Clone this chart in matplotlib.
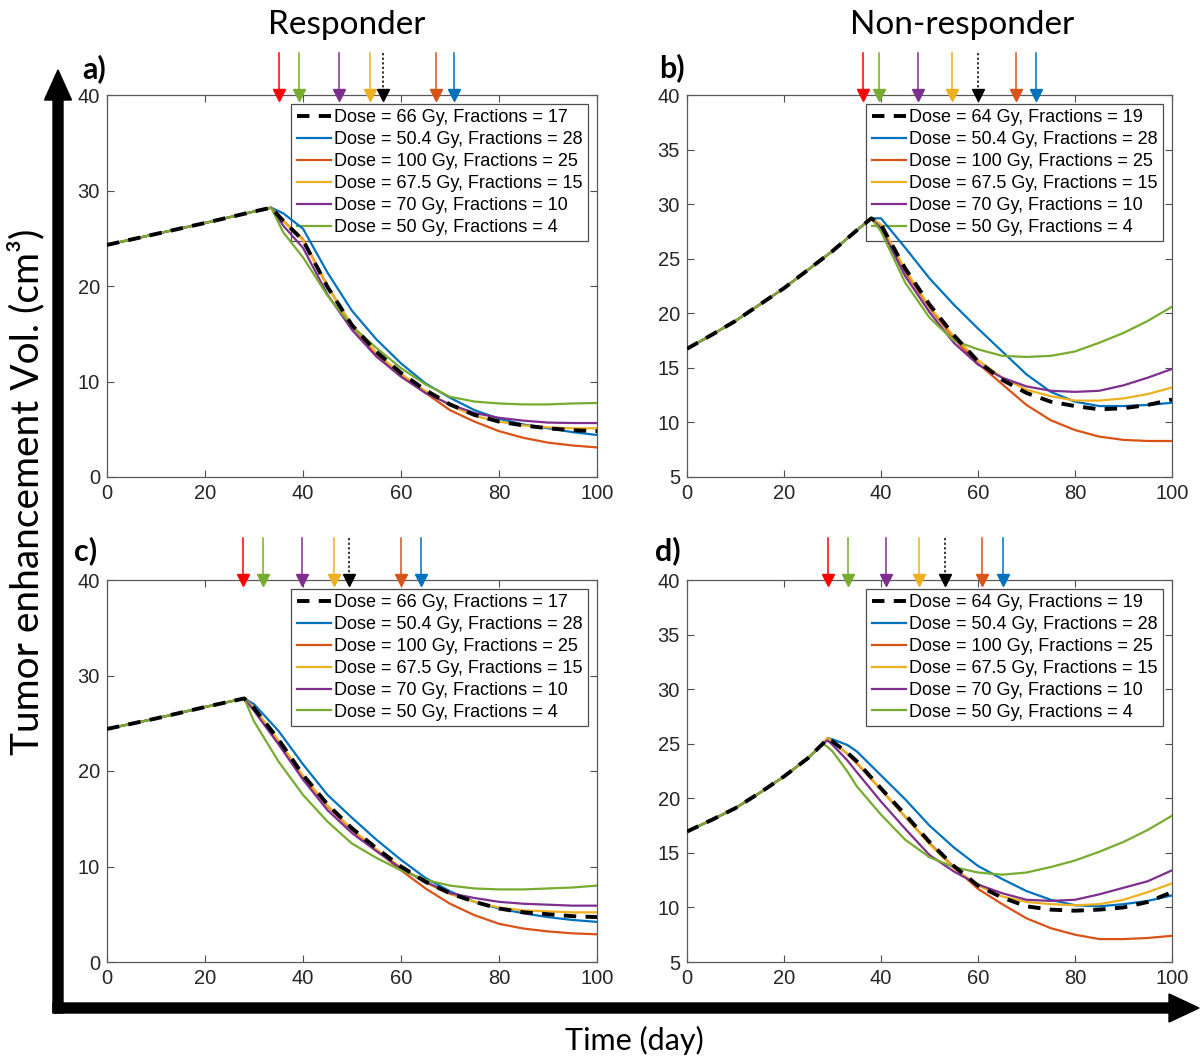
import matplotlib.pyplot as plt
from matplotlib.patches import FancyArrow

W, H = 1201, 1057

# legend labels
labels_resp = ['Dose = 66 Gy, Fractions = 17', 'Dose = 50.4 Gy, Fractions = 28',
               'Dose = 100 Gy, Fractions = 25', 'Dose = 67.5 Gy, Fractions = 15',
               'Dose = 70 Gy, Fractions = 10', 'Dose = 50 Gy, Fractions = 4']
labels_nonresp = ['Dose = 64 Gy, Fractions = 19', 'Dose = 50.4 Gy, Fractions = 28',
                  'Dose = 100 Gy, Fractions = 25', 'Dose = 67.5 Gy, Fractions = 15',
                  'Dose = 70 Gy, Fractions = 10', 'Dose = 50 Gy, Fractions = 4']

# panel a (responder, top)
a_x_pre = [0, 10, 20, 30, 33.5]
a_y_pre = [24.3, 25.45, 26.6, 27.8, 28.2]
a_x_post = [36, 40, 45, 50, 55, 60, 65, 70, 75, 80, 85, 90, 95, 100]
a_black = [26.8, 24.8, 19.9, 15.9, 13.1, 10.9, 9.1, 7.6, 6.5, 5.8, 5.4, 5.1, 4.9, 4.8]
a_blue = [27.6, 26.0, 21.4, 17.4, 14.4, 11.9, 9.8, 8.3, 7.0, 6.1, 5.5, 5.1, 4.7, 4.4]
a_orange = [26.8, 24.9, 20.0, 15.8, 12.8, 10.7, 8.8, 7.0, 5.8, 4.8, 4.1, 3.6, 3.3, 3.1]
a_yellow = [26.8, 24.8, 19.9, 15.9, 13.0, 10.8, 9.0, 7.5, 6.4, 5.8, 5.4, 5.2, 5.1, 5.1]
a_purple = [26.3, 24.0, 19.1, 15.4, 12.6, 10.5, 8.8, 7.6, 6.7, 6.2, 5.9, 5.7, 5.65, 5.65]
a_green = [25.6, 23.0, 19.0, 15.8, 13.5, 11.4, 9.7, 8.4, 7.9, 7.7, 7.6, 7.6, 7.7, 7.75]
a_arrows = [35.0, 39.2, 47.4, 53.7, 56.4, 67.1, 70.8]

# panel b (non-responder, top)
b_x_pre = [0, 5, 10, 15, 20, 25, 30, 35, 38]
b_y_pre = [16.75, 18.0, 19.3, 20.8, 22.3, 24.0, 25.7, 27.6, 28.7]
b_x_post = [40, 45, 50, 55, 60, 65, 70, 75, 80, 85, 90, 95, 100]
b_black = [28.1, 24.1, 20.8, 18.0, 15.6, 13.9, 12.7, 11.9, 11.5, 11.2, 11.3, 11.6, 12.1]
b_blue = [28.7, 26.0, 23.2, 20.8, 18.6, 16.5, 14.4, 12.8, 11.9, 11.5, 11.5, 11.6, 11.8]
b_orange = [28.1, 23.8, 20.5, 17.7, 15.4, 13.5, 11.6, 10.2, 9.3, 8.7, 8.4, 8.3, 8.3]
b_yellow = [28.1, 24.0, 20.6, 17.9, 15.7, 14.1, 13.0, 12.4, 12.0, 12.0, 12.2, 12.6, 13.2]
b_purple = [27.8, 23.4, 20.1, 17.3, 15.3, 14.1, 13.3, 12.9, 12.8, 12.9, 13.4, 14.1, 14.9]
b_green = [27.5, 22.8, 19.6, 17.5, 16.7, 16.1, 16.0, 16.1, 16.5, 17.3, 18.2, 19.3, 20.6]
b_arrows = [36.2, 39.5, 47.6, 54.6, 59.9, 67.8, 72.0]

# panel c (responder, bottom)
c_x_pre = [0, 10, 20, 28]
c_y_pre = [24.4, 25.5, 26.7, 27.6]
c_x_post = [30, 35, 40, 45, 50, 55, 60, 65, 70, 75, 80, 85, 90, 95, 100]
c_black = [26.6, 23.3, 19.6, 16.5, 14.0, 11.9, 10.0, 8.4, 7.2, 6.3, 5.6, 5.2, 5.0, 4.8, 4.7]
c_blue = [27.0, 24.2, 20.7, 17.5, 15.1, 12.8, 10.7, 8.8, 7.4, 6.3, 5.6, 5.1, 4.7, 4.4, 4.2]
c_orange = [26.6, 23.1, 19.4, 16.3, 13.8, 11.7, 9.6, 7.7, 6.1, 4.9, 4.0, 3.5, 3.2, 3.0, 2.9]
c_yellow = [26.6, 23.2, 19.5, 16.4, 13.9, 11.8, 9.9, 8.3, 7.1, 6.3, 5.7, 5.4, 5.3, 5.2, 5.2]
c_purple = [26.3, 22.8, 19.1, 15.9, 13.5, 11.6, 9.8, 8.4, 7.2, 6.7, 6.3, 6.1, 6.0, 5.9, 5.9]
c_green = [25.2, 21.0, 17.5, 14.7, 12.4, 10.9, 9.6, 8.6, 8.0, 7.7, 7.6, 7.6, 7.7, 7.8, 8.0]
c_arrows = [27.8, 31.8, 39.8, 46.4, 49.3, 60.0, 64.0]

# panel d (non-responder, bottom)
d_x_pre = [0, 5, 10, 15, 20, 25, 28]
d_y_pre = [16.95, 18.0, 19.1, 20.5, 22.0, 23.7, 25.0]
d_x_post = [29, 30, 33, 35, 40, 45, 50, 55, 60, 65, 70, 75, 80, 85, 90, 95, 100]
d_black = [25.5, 25.2, 24.2, 23.4, 20.9, 18.5, 16.0, 13.8, 12.0, 10.9, 10.1, 9.8, 9.7, 9.8, 10.0, 10.5, 11.4]
d_blue = [25.5, 25.4, 24.9, 24.3, 22.1, 19.9, 17.5, 15.5, 13.8, 12.6, 11.5, 10.7, 10.2, 10.1, 10.3, 10.6, 11.1]
d_orange = [25.5, 25.2, 24.1, 23.2, 20.8, 18.3, 15.9, 13.7, 11.7, 10.3, 9.0, 8.1, 7.5, 7.1, 7.1, 7.2, 7.4]
d_yellow = [25.5, 25.2, 24.1, 23.3, 20.8, 18.3, 15.8, 13.6, 12.0, 11.0, 10.5, 10.3, 10.2, 10.3, 10.7, 11.4, 12.2]
d_purple = [25.3, 24.9, 23.5, 22.4, 19.7, 17.2, 14.8, 13.3, 12.1, 11.3, 10.7, 10.6, 10.7, 11.2, 11.8, 12.4, 13.4]
d_green = [24.7, 24.3, 22.5, 21.1, 18.5, 16.2, 14.6, 13.7, 13.2, 13.0, 13.2, 13.7, 14.3, 15.1, 16.0, 17.1, 18.4]
d_arrows = [29.1, 33.2, 41.0, 47.8, 53.1, 60.9, 65.1]

# MATLAB default colours
BLUE, ORANGE, YELLOW = '#0072BD', '#D95319', '#EDB120'
PURPLE, GREEN = '#7E2F8E', '#77AC30'
arrow_colors = ['#FF0000', GREEN, PURPLE, YELLOW, 'k', ORANGE, BLUE]

plt.rcParams['font.family'] = ['Liberation Sans', 'DejaVu Sans']

fig = plt.figure(figsize=(W / 100, H / 100), dpi=100)


def px_axes(left, top, right, bottom):
    return fig.add_axes([left / W, 1 - bottom / H, (right - left) / W, (bottom - top) / H])


def draw_panel(ax, x_pre, y_pre, x_post, black, blue, orange, yellow, purple, green,
               arrows, labels, ymin, ystep):
    x = x_pre + x_post
    handles = []
    for ys, col in [(blue, BLUE), (orange, ORANGE), (yellow, YELLOW), (purple, PURPLE), (green, GREEN)]:
        h, = ax.plot(x, y_pre + ys, color=col, lw=1.6, zorder=3)
        handles.append(h)
    hb, = ax.plot(x, y_pre + black, color='k', lw=2.8, dashes=(3.2, 2.4), zorder=4)
    ax.set_xlim(0, 100)
    ax.set_ylim(ymin, 40)
    ax.set_xticks(range(0, 101, 20))
    ax.set_yticks(range(ymin, 41, ystep))
    ax.tick_params(direction='in', top=True, right=True, length=5, width=0.8,
                   labelsize=14.5, color='#4d4d4d', labelcolor='#262626', pad=5)
    for s in ax.spines.values():
        s.set_color('#5a5a5a')
        s.set_linewidth(0.9)
    # dose arrows above the axes
    tr = ax.get_xaxis_transform()
    for xa, col in zip(arrows, arrow_colors):
        ls = (0, (1.5, 1.5)) if col == 'k' else '-'
        ax.plot([xa, xa], [1.11, 1.01], color=col, lw=1.1, ls=ls, transform=tr, clip_on=False, zorder=5)
        ax.plot([xa], [1.0], marker='v', ms=9, color=col, mec=col, transform=tr, clip_on=False, zorder=6)
    leg = ax.legend([hb] + handles, labels, loc='upper right', fontsize=13, fancybox=False,
                    edgecolor='#4d4d4d', framealpha=1, borderpad=0.3, labelspacing=0.27,
                    handlelength=1.9, handletextpad=0.15, borderaxespad=0.5)
    leg.get_frame().set_linewidth(0.9)
    # curves pass over the legend box, as in the original
    leg.set_zorder(2)


ax_a = px_axes(107, 95, 597, 477)
ax_b = px_axes(687, 95, 1172, 477)
ax_c = px_axes(107, 580, 597, 962)
ax_d = px_axes(687, 580, 1172, 962)

draw_panel(ax_a, a_x_pre, a_y_pre, a_x_post, a_black, a_blue, a_orange, a_yellow, a_purple, a_green,
           a_arrows, labels_resp, 0, 10)
draw_panel(ax_b, b_x_pre, b_y_pre, b_x_post, b_black, b_blue, b_orange, b_yellow, b_purple, b_green,
           b_arrows, labels_nonresp, 5, 5)
draw_panel(ax_c, c_x_pre, c_y_pre, c_x_post, c_black, c_blue, c_orange, c_yellow, c_purple, c_green,
           c_arrows, labels_resp, 0, 10)
draw_panel(ax_d, d_x_pre, d_y_pre, d_x_post, d_black, d_blue, d_orange, d_yellow, d_purple, d_green,
           d_arrows, labels_nonresp, 5, 5)

# big axis arrows
inch = fig.dpi_scale_trans
fig.add_artist(FancyArrow(0.58, (H - 1013) / 100, 0, (1013 - 70) / 100, width=0.10,
                          head_width=0.27, head_length=0.30, length_includes_head=True,
                          color='k', transform=inch))
fig.add_artist(FancyArrow(0.53, (H - 1008) / 100, (1199 - 53) / 100, 0, width=0.10,
                          head_width=0.28, head_length=0.30, length_includes_head=True,
                          color='k', transform=inch))

title_font = ['Lato', 'DejaVu Sans']
fig.text(347 / W, 1 - 25 / H, 'Responder', fontsize=24, family=title_font, ha='center', va='center')
fig.text(962 / W, 1 - 25 / H, 'Non-responder', fontsize=24, family=title_font, ha='center', va='center')
fig.text(634 / W, 1 - 1040 / H, 'Time (day)', fontsize=22, family=title_font, ha='center', va='center')
fig.text(26 / W, 1 - 492 / H, 'Tumor enhancement Vol. (cm³)', fontsize=28, family=title_font,
         rotation=90, ha='center', va='center')

for lab, (px, py) in zip(['a)', 'b)', 'c)', 'd)'], [(94, 69), (672, 68), (86, 551), (668, 551)]):
    fig.text(px / W, 1 - py / H, lab, fontsize=22, fontweight='bold', family=title_font,
             ha='center', va='center')

fig.savefig('out.png', dpi=100)
